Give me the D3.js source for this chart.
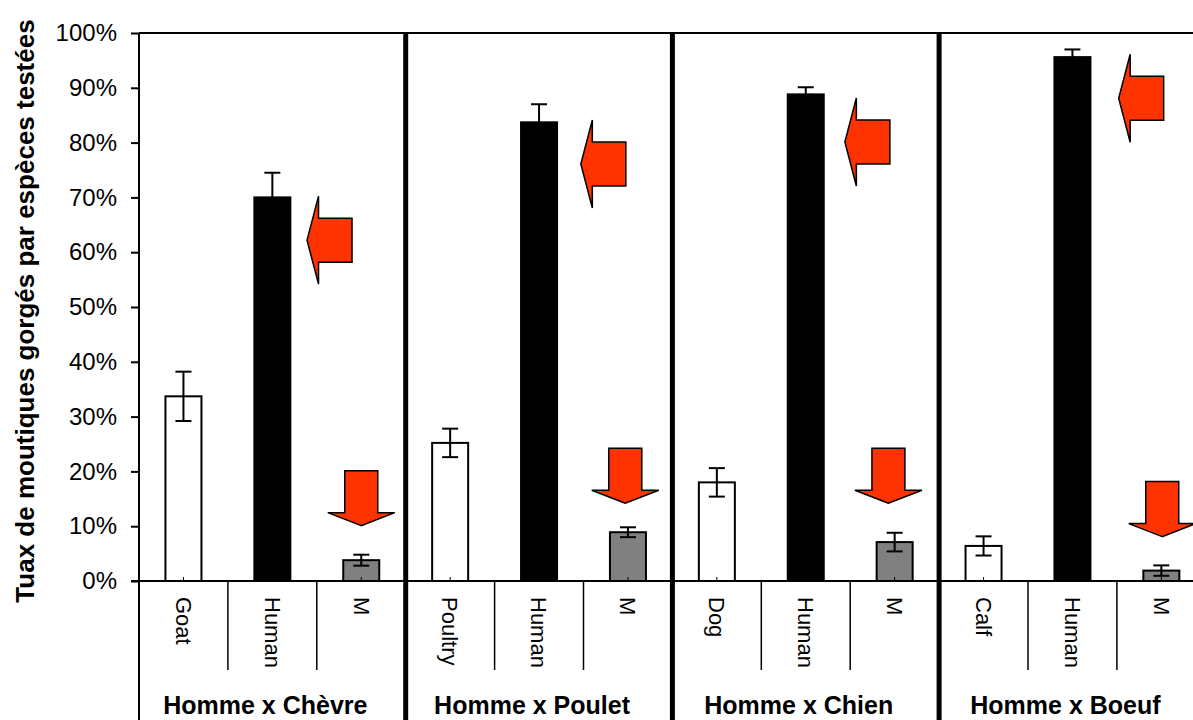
<!DOCTYPE html>
<html>
<head>
<meta charset="utf-8">
<script src="https://cdn.jsdelivr.net/npm/d3@7"></script>
<style>
  html, body { margin: 0; padding: 0; background: #fff; }
  svg { display: block; font-family: "Liberation Sans", Arial, sans-serif; }
</style>
</head>
<body>
<script>
// Données (en %)
const groups = ["Homme x Chèvre", "Homme x Poulet", "Homme x Chien", "Homme x Boeuf"];
const categories = ["Goat", "Human", "M", "Poultry", "Human", "M", "Dog", "Human", "M", "Calf", "Human", "M"];
const values = [33.7, 70.0, 3.8, 25.2, 83.7, 8.9, 18.0, 88.8, 7.1, 6.4, 95.6, 1.9];
const errors = [4.5, 4.5, 1.0, 2.6, 3.3, 0.9, 2.6, 1.3, 1.7, 1.75, 1.4, 0.95];
const yTicks = [0, 10, 20, 30, 40, 50, 60, 70, 80, 90, 100];

// Flèches rouges : position en unités de catégorie, valeur de la pointe en %
const leftArrowPos = [1.89, 4.97, 7.94, 11.02];
const leftArrowVal = [62.2, 76.1, 80.1, 88.1];
const downArrowPos = [2.5, 5.47, 8.43, 11.51];
const downArrowVal = [10.1, 14.2, 14.2, 8.1];

const W = 1193, H = 720;
const plotLeft = 139, plotTop = 33, plotBottom = 581;
const step = 88.9;

const svg = d3.select("body").append("svg")
    .attr("width", W)
    .attr("height", H);

svg.append("rect").attr("width", W).attr("height", H).attr("fill", "#fff");

const keys = categories.map(function(d, i) { return i + "-" + d; });
const x = d3.scaleBand()
    .domain(keys)
    .range([plotLeft, plotLeft + step * categories.length])
    .padding(0);
const xPos = d3.scaleLinear()
    .domain([0, categories.length])
    .range([plotLeft, plotLeft + step * categories.length]);
const y = d3.scaleLinear()
    .domain([0, 100])
    .range([plotBottom, plotTop]);

const barW = x.bandwidth() * 0.405;
const fillOf = function(c) {
    if (c === "Human") return "#000";
    if (c === "M") return "#808080";
    return "#fff";
};

// cadre du haut
svg.append("line")
    .attr("x1", plotLeft).attr("x2", W + 20)
    .attr("y1", plotTop).attr("y2", plotTop)
    .attr("stroke", "#000").attr("stroke-width", 2);

// axe Y
const yAxis = svg.append("g")
    .attr("transform", "translate(" + plotLeft + ",0)")
    .call(d3.axisLeft(y).tickValues(yTicks)
        .tickFormat(function(d) { return d + "%"; })
        .tickSize(8).tickPadding(14));
yAxis.select(".domain").remove();
yAxis.selectAll(".tick line").attr("stroke", "#000").attr("stroke-width", 2);
yAxis.selectAll(".tick text")
    .attr("font-family", "Liberation Sans, Arial, sans-serif")
    .attr("font-size", 24)
    .attr("fill", "#000");

// barres
const bars = svg.append("g");
bars.selectAll("rect")
    .data(values)
    .enter()
    .append("rect")
    .attr("x", function(d, i) { return x(keys[i]) + (x.bandwidth() - barW) / 2; })
    .attr("y", function(d) { return y(d); })
    .attr("width", barW)
    .attr("height", function(d) { return y(0) - y(d); })
    .attr("fill", function(d, i) { return fillOf(categories[i]); })
    .attr("stroke", "#000")
    .attr("stroke-width", 2);

// petits traits au pied des barres
bars.selectAll("line.foot")
    .data(values)
    .enter()
    .append("line")
    .attr("class", "foot")
    .attr("x1", function(d, i) { return x(keys[i]) + x.bandwidth() / 2; })
    .attr("x2", function(d, i) { return x(keys[i]) + x.bandwidth() / 2; })
    .attr("y1", y(0)).attr("y2", y(0) - 4)
    .attr("stroke", "#000").attr("stroke-width", 1);

// barres d'erreur
const errG = svg.append("g").attr("stroke", "#000").attr("stroke-width", 2);
values.forEach(function(v, i) {
    const cx = x(keys[i]) + x.bandwidth() / 2;
    const hi = y(v + errors[i]), lo = y(v - errors[i]);
    errG.append("line").attr("x1", cx).attr("x2", cx).attr("y1", hi).attr("y2", lo);
    errG.append("line").attr("x1", cx - 8).attr("x2", cx + 8).attr("y1", hi).attr("y2", hi);
    errG.append("line").attr("x1", cx - 8).attr("x2", cx + 8).attr("y1", lo).attr("y2", lo);
});

// ligne de base
svg.append("line")
    .attr("x1", plotLeft - 8).attr("x2", W + 20)
    .attr("y1", y(0)).attr("y2", y(0))
    .attr("stroke", "#000").attr("stroke-width", 2);

// séparations entre catégories (sous l'axe)
categories.forEach(function(c, i) {
    if (i % 3 === 0) return;
    svg.append("line")
        .attr("x1", x(keys[i])).attr("x2", x(keys[i]))
        .attr("y1", y(0)).attr("y2", 670)
        .attr("stroke", "#000").attr("stroke-width", 1.5);
});

// axe gauche et séparations de groupes
svg.append("line")
    .attr("x1", plotLeft).attr("x2", plotLeft)
    .attr("y1", plotTop).attr("y2", H)
    .attr("stroke", "#000").attr("stroke-width", 2);
groups.forEach(function(g, gi) {
    if (gi === 0) return;
    const gx = x(keys[gi * 3]);
    svg.append("line")
        .attr("x1", gx).attr("x2", gx)
        .attr("y1", plotTop).attr("y2", H)
        .attr("stroke", "#000").attr("stroke-width", 5);
});

// étiquettes des catégories
svg.append("g").selectAll("text")
    .data(categories)
    .enter()
    .append("text")
    .attr("transform", function(d, i) {
        return "translate(" + (x(keys[i]) + x.bandwidth() / 2) + ",597) rotate(90)";
    })
    .attr("dy", "0.35em")
    .attr("font-size", 22)
    .text(function(d) { return d; });

// étiquettes des groupes (le dernier est rogné par le bord droit)
svg.append("g").selectAll("text")
    .data(groups)
    .enter()
    .append("text")
    .attr("x", function(d, i) { return xPos(i * 3 + 1.5) - 7; })
    .attr("y", 714)
    .attr("text-anchor", "middle")
    .attr("font-size", 25)
    .attr("font-weight", "bold")
    .text(function(d) { return d; });

// titre de l'axe Y
svg.append("text")
    .attr("transform", "translate(34,311) rotate(-90)")
    .attr("text-anchor", "middle")
    .attr("font-size", 26)
    .attr("font-weight", "bold")
    .text("Tuax de moutiques gorgés par espèces testées");

// flèches
const arrowStyle = function(sel) {
    sel.attr("fill", "#FF3300").attr("stroke", "#000").attr("stroke-width", 1.5)
       .attr("stroke-linejoin", "miter");
};
const leftShape = [[0, 0], [11.5, -44], [11.5, -22], [45, -22], [45, 22], [11.5, 22], [11.5, 44]];
const downShape = [[0, 0], [-33.5, -13], [-16.5, -13], [-16.5, -55], [16.5, -55], [16.5, -13], [33.5, -13]];
const arrows = svg.append("g");
leftArrowPos.forEach(function(p, i) {
    arrows.append("path")
        .attr("transform", "translate(" + xPos(p) + "," + y(leftArrowVal[i]) + ")")
        .attr("d", d3.line()(leftShape) + "Z")
        .call(arrowStyle);
});
downArrowPos.forEach(function(p, i) {
    arrows.append("path")
        .attr("transform", "translate(" + xPos(p) + "," + y(downArrowVal[i]) + ")")
        .attr("d", d3.line()(downShape) + "Z")
        .call(arrowStyle);
});
</script>
</body>
</html>
